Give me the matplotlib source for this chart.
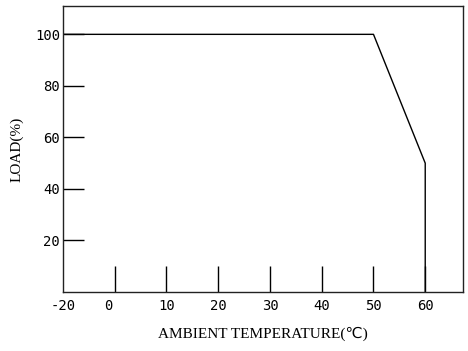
import matplotlib
matplotlib.use("Agg")
import matplotlib.pyplot as plt

# derating curve
temp = [-10, 50, 60, 60]
load = [100, 100, 50, 0]

xtick_marks = [0, 10, 20, 30, 40, 50, 60]
xlabel_pos = [-10, -1.3, 10, 20, 30, 40, 50, 60]
xlabel_txt = ["-20", "0", "10", "20", "30", "40", "50", "60"]
ytick_marks = [20, 40, 60, 80, 100]
ylabel_txt = ["20", "40", "60", "80", "100"]

fig = plt.figure(figsize=(4.68, 3.51), dpi=100)
ax = fig.add_axes([63/468, 59/351, 400/468, 286/351])

ax.plot(temp, load, color="black", lw=1.0)
ax.set_xlim(-10, 67.3)
ax.set_ylim(0, 111)

for s in ax.spines.values():
    s.set_linewidth(1.0)
    s.set_color("#222222")

# x: labels on major ticks (no marks), marks as minor ticks
ax.xaxis.remove_overlapping_locs = False
ax.set_xticks(xlabel_pos)
ax.set_xticklabels(xlabel_txt, family="DejaVu Sans Mono", fontsize=10)
ax.tick_params(axis="x", which="major", length=0, pad=5)
ax.set_xticks(xtick_marks, minor=True)
ax.tick_params(axis="x", which="minor", direction="in", length=19, width=1.0)

ax.set_yticks(ytick_marks)
ax.set_yticklabels(ylabel_txt, family="DejaVu Sans Mono", fontsize=10)
ax.tick_params(axis="y", direction="in", length=15, width=1.0, pad=2)

ax.set_xlabel("AMBIENT TEMPERATURE(℃)", family=["Liberation Serif", "DejaVu Sans"],
              fontsize=11, labelpad=10)
ax.set_ylabel("LOAD(%)", family=["Liberation Serif", "DejaVu Sans"], fontsize=11, labelpad=8)

fig.savefig("out.png", dpi=100)
